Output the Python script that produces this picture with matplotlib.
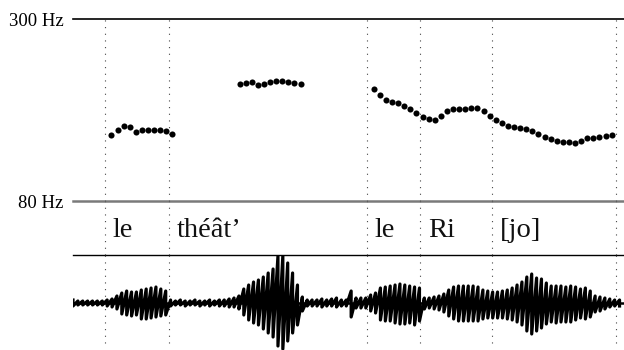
"""
Pitch track, word tier and waveform for "le théât' le Ri[jo]".
"""
import matplotlib
matplotlib.use("Agg")
import matplotlib.pyplot as plt
import numpy as np

plt.rcParams.update({
    "font.family": "serif",
    "font.serif": ["Liberation Serif", "DejaVu Serif"],
})

# ---- data ----
# pitch (Hz), 10 ms frames, one run per voiced stretch
frame_step = 0.01
pitch_starts = [0.063, 0.273, 0.493]
pitch_le = [128.9, 134.1, 138.3, 136.6, 132.4, 133.7, 134.1, 134.1, 133.7, 133.4, 129.8]
pitch_theat = [187.0, 188.4, 189.8, 186.2, 187.0, 189.4, 190.8, 190.8, 189.8, 188.0, 187.0]
pitch_lerijo = [179.9, 172.6, 166.9, 164.0, 162.5, 159.8, 155.5, 151.8, 147.4, 145.3,
                144.5, 148.0, 154.0, 155.5, 156.3, 156.6, 157.0, 157.0, 153.6, 148.0,
                144.5, 141.4, 138.3, 137.3, 136.3, 135.0, 133.4, 129.8, 127.4, 125.5,
                123.7, 123.1, 122.5, 122.2, 123.7, 126.5, 126.1, 127.4, 128.3, 128.9]

# word tier: boundaries (s) and labels
boundaries = [0.0525, 0.158, 0.4815, 0.5693, 0.6874, 0.8897]
words = ["le", "théât’", "le", "Ri", "[jo]"]

# waveform envelope, one value per 8 ms (positive / negative peak, arbitrary units)
wave_step = 0.008
wave_up = [3, 2, 2, 2, 2, 2, 2, 3, 4, 7, 10, 12, 11, 11, 13, 14, 15, 16, 14, 12,
           3, 2, 3, 2, 2, 3, 2, 2, 3, 2, 3, 3, 4, 5, 7, 14, 18, 21, 23, 26,
           30, 34, 47, 47, 40, 30, 18, 6, 3, 3, 3, 4, 3, 4, 5, 3, 3, 12, 5, 5,
           5, 8, 10, 15, 16, 17, 18, 19, 18, 17, 16, 15, 5, 5, 6, 7, 9, 13, 16, 17,
           17, 17, 17, 16, 13, 12, 11, 11, 12, 13, 15, 18, 21, 26, 29, 25, 24, 20, 17, 17,
           17, 16, 17, 16, 14, 15, 12, 7, 6, 5, 4, 3, 3]
wave_down = [3, 2, 2, 2, 2, 2, 2, 3, 4, 6, 11, 12, 13, 12, 16, 16, 15, 14, 13, 12,
             3, 2, 2, 3, 2, 2, 3, 2, 3, 2, 3, 3, 4, 4, 6, 12, 17, 20, 22, 26,
             30, 34, 43, 46, 38, 30, 22, 8, 3, 3, 3, 4, 3, 3, 4, 3, 3, 14, 5, 5,
             5, 8, 10, 17, 18, 18, 20, 21, 21, 20, 22, 18, 6, 5, 6, 7, 9, 13, 16, 18,
             18, 18, 18, 18, 16, 15, 15, 15, 15, 16, 17, 19, 22, 28, 31, 28, 25, 21, 19, 20,
             19, 19, 19, 17, 15, 16, 14, 9, 8, 6, 4, 3, 3]

t_end = 0.9033

# ---- figure ----
fig = plt.figure(figsize=(6.24, 3.5), dpi=100)
ax_f0 = fig.add_axes([73 / 624, 1 - 201 / 350, 551 / 624, 182 / 350])
ax_tier = fig.add_axes([73 / 624, 1 - 255 / 350, 551 / 624, 54 / 350], sharex=ax_f0)
ax_wav = fig.add_axes([73 / 624, 0, 551 / 624, 95 / 350], sharex=ax_f0)

for ax in (ax_f0, ax_tier, ax_wav):
    for s in ax.spines.values():
        s.set_visible(False)
    ax.tick_params(bottom=False, labelbottom=False, left=False)
    ax.patch.set_alpha(0)

dot_style = dict(color="#444444", linewidth=0.8, linestyle=(0, (1, 5)), zorder=1)

# pitch panel
for start, vals in zip(pitch_starts, [pitch_le, pitch_theat, pitch_lerijo]):
    t = start + frame_step * np.arange(len(vals))
    ax_f0.plot(t, vals, "o", color="black", markersize=4.4, markeredgewidth=0, zorder=3)
ax_f0.set_yscale("log")
ax_f0.set_ylim(80, 300)
ax_f0.set_xlim(0, t_end)
ax_f0.axhline(300, color="black", linewidth=1.2, clip_on=False)
ax_f0.axhline(80, color="#7a7a7a", linewidth=1.8, clip_on=False)
ax_f0.set_yticks([80, 300])
ax_f0.set_yticks([], minor=True)
ax_f0.set_yticklabels(["80 Hz", "300 Hz"])
ax_f0.tick_params(axis="y", length=0, pad=7, labelsize=13.5)
for b in boundaries:
    ax_f0.axvline(b, **dot_style)

# word tier
ax_tier.set_ylim(0, 1)
ax_tier.set_yticks([])
ax_tier.axhline(0, color="black", linewidth=1.0, clip_on=False)
for b in boundaries:
    ax_tier.axvline(b, **dot_style)
for b, w in zip(boundaries[:-1], words):
    ax_tier.annotate(w, xy=(b, 0.34), xytext=(5.5, 0), textcoords="offset points",
                     fontsize=20.5, va="baseline", ha="left", color="#111111")

# waveform
t_wav = wave_step * np.arange(len(wave_up))
xs = np.repeat(t_wav, 2)
ys = np.column_stack([wave_up, -np.array(wave_down)]).ravel()
ax_wav.plot(xs, ys, color="black", linewidth=2.3, zorder=3, solid_joinstyle="round")
ax_wav.plot([0, t_end], [0, 0], color="black", linewidth=1.8, zorder=3)
ax_wav.set_ylim(-47, 48)
ax_wav.set_yticks([])
for b in boundaries:
    ax_wav.axvline(b, ymin=0.07, ymax=1, **dot_style)

fig.savefig("out.png", dpi=100)
